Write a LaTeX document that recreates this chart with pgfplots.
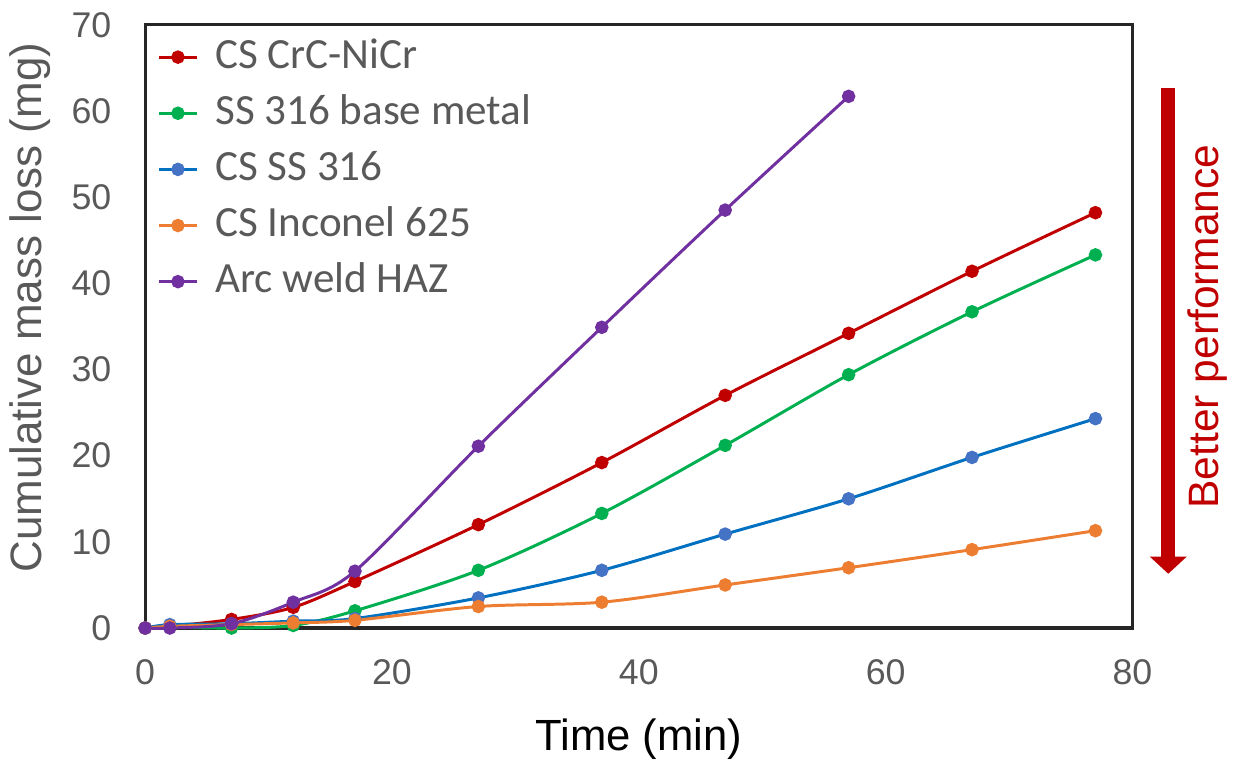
\documentclass[border=0pt]{standalone}
\usepackage{pgfplots}
\pgfplotsset{compat=1.18}
\usepackage{fontspec}
\setmainfont{Liberation Sans}
\newfontfamily\legfont{Carlito}
\usetikzlibrary{arrows.meta}

\definecolor{cRed}{HTML}{C00000}
\definecolor{cGreen}{HTML}{00B050}
\definecolor{cBlue}{HTML}{0070C0}
\definecolor{cBlueMark}{HTML}{4472C4}
\definecolor{cOrange}{HTML}{ED7D31}
\definecolor{cPurple}{HTML}{7030A0}
\definecolor{txtgray}{HTML}{595959}

\begin{document}
\begin{tikzpicture}
\begin{axis}[
    scale only axis,
    width=348.3pt, height=212.8pt,
    xmin=0, xmax=80, ymin=0, ymax=70,
    xtick={0,20,40,60,80},
    ytick={0,10,20,30,40,50,60,70},
    major tick length=0pt,
    axis line style={black!85, line width=1.1pt},
    /pgf/number format/assume math mode=true,
    tick label style={font=\fontsize{12.6}{14}\selectfont, text=txtgray},
    yticklabel style={xshift=-8.4pt},
    xticklabel style={yshift=-7.5pt},
    xlabel={Time (min)},
    ylabel={Cumulative mass loss (mg)},
    every axis x label/.style={at={(axis description cs:0.5,0)}, anchor=center,
        yshift=-39.2pt, font=\fontsize{15.4}{18}\selectfont, text=black},
    every axis y label/.style={at={(axis description cs:0,0.5)}, anchor=center,
        xshift=-40.6pt, yshift=6.6pt, rotate=90,
        font=\fontsize{15.5}{18}\selectfont, text=txtgray},
    clip=false,
    legend cell align=left,
    legend style={at={(rel axis cs:0,1)}, anchor=north west, xshift=4.2pt, yshift=-4.2pt,
        draw=none, fill=none, inner sep=0pt, row sep=5.8pt, column sep=6pt,
        font=\legfont\fontsize{15.2}{18}\selectfont, text=txtgray,
        nodes={inner sep=0pt, text height=11pt, text depth=3pt}},
    legend image code/.code={\draw[mark repeat=2, mark phase=2]
        plot coordinates {(0pt,0pt) (6.65pt,0pt) (13.3pt,0pt)};},
    every axis plot/.append style={line width=1.05pt, smooth, tension=0.5,
        mark=*, mark size=1.85pt},
]

% CS CrC-NiCr
\addplot[color=cRed, mark options={fill=cRed}] coordinates {
    (0,0) (2,0.2) (7,1.0) (12,2.4) (17,5.4) (27,12.0) (37,19.2)
    (47,27.0) (57,34.2) (67,41.4) (77,48.2)
};
% SS 316 base metal
\addplot[color=cGreen, mark options={fill=cGreen}] coordinates {
    (0,0) (2,0.1) (7,0.0) (12,0.3) (17,2.0) (27,6.7) (37,13.3)
    (47,21.2) (57,29.4) (67,36.7) (77,43.3)
};
% CS SS 316
\addplot[color=cBlue, mark options={fill=cBlueMark, draw=cBlueMark}] coordinates {
    (0,0) (2,0.4) (7,0.5) (12,0.8) (17,1.1) (27,3.5) (37,6.7)
    (47,10.9) (57,15.0) (67,19.8) (77,24.3)
};
% CS Inconel 625
\addplot[color=cOrange, mark options={fill=cOrange}] coordinates {
    (0,0) (2,0.2) (7,0.4) (12,0.6) (17,0.9) (27,2.5) (37,3.0)
    (47,5.0) (57,7.0) (67,9.1) (77,11.3)
};
% Arc weld HAZ
\addplot[color=cPurple, mark options={fill=cPurple}] coordinates {
    (0,0) (2,0) (7,0.5) (12,3.0) (17,6.6) (27,21.1) (37,34.9)
    (47,48.5) (57,61.7)
};

\legend{CS CrC-NiCr, SS 316 base metal, CS SS 316, CS Inconel 625, Arc weld HAZ}

\draw[cRed, line width=5pt, -{Triangle[width=12.6pt, length=6pt]}]
    (axis cs:82.9,62.7) -- (axis cs:82.9,6.3);
\node[rotate=90, text=cRed, font=\fontsize{15}{18}\selectfont] at (axis cs:86.1,35.0) {Better performance};

\path (axis cs:-11.76,-15.54) rectangle (axis cs:87.91,72.88);
\end{axis}
\end{tikzpicture}
\end{document}
